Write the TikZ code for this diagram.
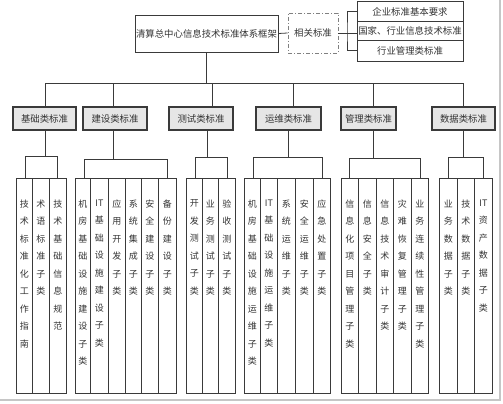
\documentclass[tikz,border=0pt]{standalone}
\usepackage{fontspec}
\setmainfont{Noto Sans CJK SC}
\definecolor{ln}{HTML}{3A3A3A}
\definecolor{tx}{HTML}{333333}
\definecolor{catfill}{HTML}{E6E6E6}
\tikzset{
  box/.style={draw=ln, line width=0.9pt, fill=white, inner sep=0pt, text=tx,
    font=\fontsize{9.4}{11}\selectfont},
  catbox/.style={box, fill=catfill, line width=1.1pt, minimum height=23pt},
  relbox/.style={draw=gray, line width=0.9pt, inner sep=0pt, text=tx,
    dash pattern=on 4pt off 2pt on 1pt off 2pt, font=\fontsize{9.4}{11}\selectfont},
  leafbox/.style={draw=ln, line width=0.8pt, inner sep=0pt, anchor=north west,
    minimum height=215pt},
  vtext/.style={inner sep=0pt, anchor=north, align=center, text=tx,
    font=\fontsize{9}{17.5}\selectfont},
  conn/.style={draw=ln, line width=0.8pt},
}
\newcommand\leafnode[4]{%
  \node[leafbox, minimum width=#3pt] (#1) at (#2,178) {};
  \node[vtext] (#1t) at ([yshift=-21.5pt]#1.north) {#4};}
\begin{document}
\begin{tikzpicture}[x=1pt,y=-1pt]
\useasboundingbox (0,0) rectangle (503,404);
% frame
\draw[gray!45, line width=1.3pt] (500,0) -- (500,400) -- (0,400);

% top
\node[box, minimum width=143pt, minimum height=37pt] (main) at (206.5,33.5) {清算总中心信息技术标准体系框架};
\node[relbox, minimum width=50pt, minimum height=40pt] (rel) at (313,33) {相关标准};
\node[box, minimum width=106pt, minimum height=20pt] (r1) at (410,11.7) {企业标准基本要求};
\node[box, minimum width=106pt, minimum height=19pt] (r2) at (410,31.2) {国家、行业信息技术标准};
\node[box, minimum width=106pt, minimum height=20.3pt] (r3) at (410,50.85) {行业管理类标准};
\draw[conn] (main.east) -- (rel.west);
\coordinate (br) at (347,33);
\draw[conn] (rel.east) -- (br);
\draw[conn] (r1.west) -| (br) |- (r3.west);
\draw[conn] (br) -- (br -| r2.west);

% categories
\node[catbox, minimum width=63pt] (c1) at (44.5,118.5) {基础类标准};
\node[catbox, minimum width=64pt] (c2) at (115,118.5) {建设类标准};
\node[catbox, minimum width=64pt] (c3) at (201,118.5) {测试类标准};
\node[catbox, minimum width=65pt] (c4) at (288.5,118.5) {运维类标准};
\node[catbox, minimum width=55pt] (c5) at (368.5,118.5) {管理类标准};
\node[catbox, minimum width=63pt] (c6) at (463.5,118.5) {数据类标准};

% bus
\coordinate (u1) at (45,83);
\coordinate (u2) at (113,83);
\coordinate (u3) at (212,83);
\coordinate (u4) at (293,83);
\coordinate (u5) at (373,83);
\coordinate (u6) at (463,83);
\draw[conn] (main.south) -- (main.south |- u1);
\draw[conn] (u1) -- (u6);
\foreach \i in {1,...,6} \draw[conn] (u\i) -- (u\i |- c\i.north);

% leaves
\leafnode{a1}{16}{16}{技\\术\\标\\准\\化\\工\\作\\指\\南}
\leafnode{a2}{32}{17}{术\\语\\标\\准\\子\\类}
\leafnode{a3}{49}{17}{技\\术\\基\\础\\信\\息\\规\\范}

\leafnode{b1}{75}{15}{机\\房\\基\\础\\设\\施\\建\\设\\子\\类}
\leafnode{b2}{90}{18}{IT\\基\\础\\设\\施\\建\\设\\子\\类}
\leafnode{b3}{108}{17}{应\\用\\开\\发\\子\\类}
\leafnode{b4}{125}{16}{系\\统\\集\\成\\子\\类}
\leafnode{b5}{141}{17}{安\\全\\建\\设\\子\\类}
\leafnode{b6}{158}{18}{备\\份\\建\\设\\子\\类}

\leafnode{d1}{186}{16}{开\\发\\测\\试\\子\\类}
\leafnode{d2}{202}{16}{业\\务\\测\\试\\子\\类}
\leafnode{d3}{218}{17}{验\\收\\测\\试\\子\\类}

\leafnode{e1}{244}{16}{机\\房\\基\\础\\设\\施\\运\\维\\子\\类}
\leafnode{e2}{260}{17}{IT\\基\\础\\设\\施\\运\\维\\子\\类}
\leafnode{e3}{277}{18}{系\\统\\运\\维\\子\\类}
\leafnode{e4}{295}{18}{安\\全\\运\\维\\子\\类}
\leafnode{e5}{313}{17}{应\\急\\处\\置\\子\\类}

\leafnode{f1}{341}{17}{信\\息\\化\\项\\目\\管\\理\\子\\类}
\leafnode{f2}{358}{18}{信\\息\\安\\全\\子\\类}
\leafnode{f3}{376}{17}{信\\息\\技\\术\\审\\计\\子\\类}
\leafnode{f4}{393}{18}{灾\\难\\恢\\复\\管\\理\\子\\类}
\leafnode{f5}{411}{17}{业\\务\\连\\续\\性\\管\\理\\子\\类}

\leafnode{g1}{439}{18}{业\\务\\数\\据\\子\\类}
\leafnode{g2}{457}{17}{技\\术\\数\\据\\子\\类}
\leafnode{g3}{474}{18}{IT\\资\\产\\数\\据\\子\\类}

% lower brackets
\coordinate (v1) at (45,156);   \coordinate (p1a) at (25,156);  \coordinate (p1b) at (57,156);
\coordinate (v2) at (113,159);  \coordinate (p2a) at (84,159);  \coordinate (p2b) at (167,159);
\coordinate (v3) at (207,157);  \coordinate (p3a) at (195,157); \coordinate (p3b) at (227,157);
\coordinate (v4) at (288,157);  \coordinate (p4a) at (253,157); \coordinate (p4b) at (322,157);
\coordinate (v5) at (373,158);  \coordinate (p5a) at (349,158); \coordinate (p5b) at (420,158);
\coordinate (v6) at (463,157);  \coordinate (p6a) at (448,157); \coordinate (p6b) at (483,157);
\foreach \i in {1,...,6} \draw[conn] (c\i.south -| v\i) -- (v\i);
\draw[conn] (p1a |- a1.north) -- (p1a) -- (p1b) -- (p1b |- a3.north);
\draw[conn] (p2a |- b1.north) -- (p2a) -- (p2b) -- (p2b |- b6.north);
\draw[conn] (p3a |- d1.north) -- (p3a) -- (p3b) -- (p3b |- d3.north);
\draw[conn] (p4a |- e1.north) -- (p4a) -- (p4b) -- (p4b |- e5.north);
\draw[conn] (p5a |- f1.north) -- (p5a) -- (p5b) -- (p5b |- f5.north);
\draw[conn] (p6a |- g1.north) -- (p6a) -- (p6b) -- (p6b |- g3.north);
\end{tikzpicture}
\end{document}
